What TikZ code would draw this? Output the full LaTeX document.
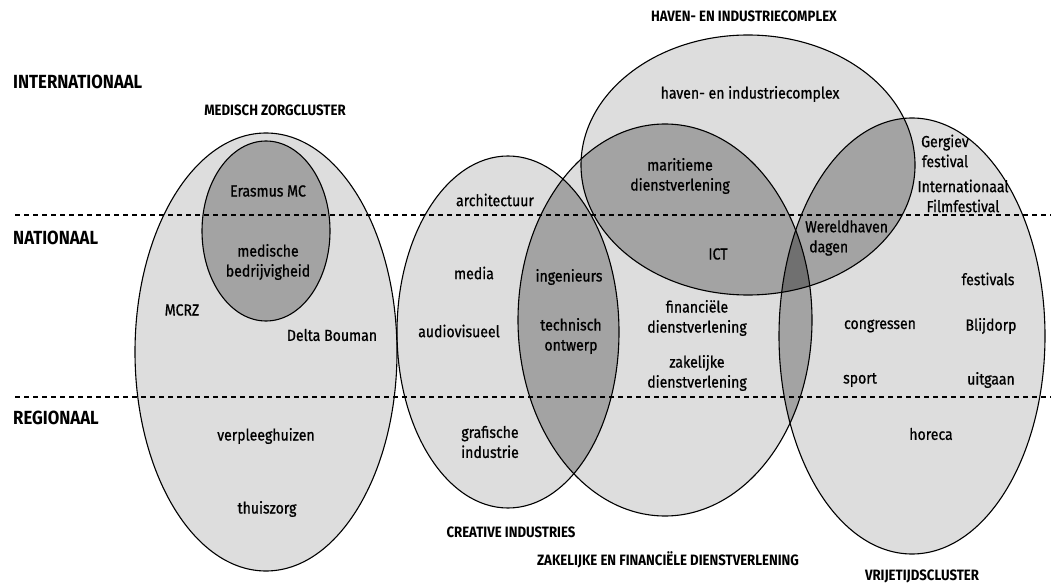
\documentclass[tikz,border=0pt]{standalone}
\usepackage{fontspec}
\setmainfont{Fira Sans}[FakeStretch=0.88]
\newfontfamily\lblfont{Fira Sans}[FakeStretch=0.88,FakeBold=0.8]

% cluster outlines (centres and radii in px of the 1051x585 sheet)
\def\pathMedisch{(266,352) ellipse [x radius=131pt, y radius=219pt]}
\def\pathErasmus{(266,231) ellipse [x radius=64pt, y radius=90pt]}
\def\pathCreative{(508,332) ellipse [x radius=111pt, y radius=176pt]}
\def\pathZakelijk{(665,320) ellipse [x radius=147pt, y radius=196pt]}
\def\pathHaven{(748,165) ellipse [x radius=167pt, y radius=130pt]}
\def\pathVrije{(912,336) ellipse [x radius=133pt, y radius=218pt]}

\definecolor{fillone}{RGB}{221,221,221}
\definecolor{filltwo}{RGB}{163,163,163}
\definecolor{fillthree}{RGB}{112,112,112}

\tikzset{
  lbl/.style={font=\lblfont\fontsize{16}{20}\selectfont, inner sep=0pt, align=center},
  lvl/.style={font=\bfseries\fontsize{19}{21}\selectfont, anchor=west, inner sep=0pt},
  ttl/.style={font=\bfseries\fontsize{15}{17}\selectfont, inner sep=0pt},
  outline/.style={draw=black, line width=1.1pt},
  levelline/.style={draw=black, line width=1.2pt, dash pattern=on 5pt off 4pt}
}

\begin{document}
\begin{tikzpicture}[x=1pt, y=-1pt]
\useasboundingbox (0,0) rectangle (1051,585);

% base fills
\fill[fillone] \pathMedisch;
\fill[fillone] \pathCreative;
\fill[fillone] \pathZakelijk;
\fill[fillone] \pathHaven;
\fill[fillone] \pathVrije;
\fill[filltwo] \pathErasmus;

% pairwise overlaps
\begin{scope}\clip \pathCreative; \fill[filltwo] \pathZakelijk; \end{scope}
\begin{scope}\clip \pathZakelijk; \fill[filltwo] \pathHaven; \end{scope}
\begin{scope}\clip \pathHaven; \fill[filltwo] \pathVrije; \end{scope}
\begin{scope}\clip \pathZakelijk; \fill[filltwo] \pathVrije; \end{scope}
% triple overlap
\begin{scope}\clip \pathZakelijk; \clip \pathHaven; \fill[fillthree] \pathVrije; \end{scope}

% level boundaries
\coordinate (natL) at (15,215);
\coordinate (natR) at (1051,215);
\coordinate (regL) at (15,397);
\coordinate (regR) at (1051,397);
\draw[levelline] (natL) -- (natR);
\draw[levelline] (regL) -- (regR);

% outlines
\draw[outline] \pathMedisch;
\draw[outline] \pathErasmus;
\draw[outline] \pathCreative;
\draw[outline] \pathZakelijk;
\draw[outline] \pathHaven;
\draw[outline] \pathVrije;

% level names
\node[lvl] (lvlInt) at (13,82) {INTERNATIONAAL};
\node[lvl] (lvlNat) at (13,238) {NATIONAAL};
\node[lvl] (lvlReg) at (13,418) {REGIONAAL};

% cluster names
\node[ttl] (tMed) at (275,110) {MEDISCH ZORGCLUSTER};
\node[ttl] (tHav) at (744,16) {HAVEN- EN INDUSTRIECOMPLEX};
\node[ttl] (tCre) at (511,532) {CREATIVE INDUSTRIES};
\node[ttl] (tZak) at (668,560) {ZAKELIJKE EN FINANCIËLE DIENSTVERLENING};
\node[ttl] (tVri) at (922,576) {VRIJETIJDSCLUSTER};

% medisch zorgcluster
\node[lbl] (erasmus) at (268,191) {Erasmus MC};
\node[lbl] (medbed) at (268,262) {medische\\bedrijvigheid};
\node[lbl] (mcrz) at (182,310) {MCRZ};
\node[lbl] (delta) at (332,335) {Delta Bouman};
\node[lbl] (verpl) at (266,436) {verpleeghuizen};
\node[lbl] (thuis) at (267,509) {thuiszorg};

% creative industries
\node[lbl] (archi) at (495,200) {architectuur};
\node[lbl] (media) at (474,273) {media};
\node[lbl] (audio) at (459,331) {audiovisueel};
\node[lbl] (graf) at (490,442) {grafische\\industrie};
\node[lbl] (ingen) at (569,277) {ingenieurs};
\node[lbl] (techn) at (571,336) {technisch\\ontwerp};

% zakelijke en financiele dienstverlening
\node[lbl] (finan) at (697,318) {financiële\\dienstverlening};
\node[lbl] (zakel) at (697,373) {zakelijke\\dienstverlening};
\node[lbl] (ict) at (718,254) {ICT};

% haven- en industriecomplex
\node[lbl] (haven) at (750,94) {haven- en industriecomplex};
\node[lbl] (marit) at (680,176) {maritieme\\dienstverlening};

% vrijetijdscluster
\node[lbl] (gerg) at (945,151) {Gergiev\\festival};
\node[lbl] (film) at (963,196) {Internationaal\\Filmfestival};
\node[lbl, anchor=west, align=left] (wereld) at (805,238) {Wereldhaven\\\hspace{4pt}dagen};
\node[lbl] (festi) at (988,279) {festivals};
\node[lbl] (congr) at (880,326) {congressen};
\node[lbl] (blijd) at (991,326) {Blijdorp};
\node[lbl] (sport) at (860,380) {sport};
\node[lbl] (uitg) at (991,380) {uitgaan};
\node[lbl] (horeca) at (931,434) {horeca};
\end{tikzpicture}
\end{document}
